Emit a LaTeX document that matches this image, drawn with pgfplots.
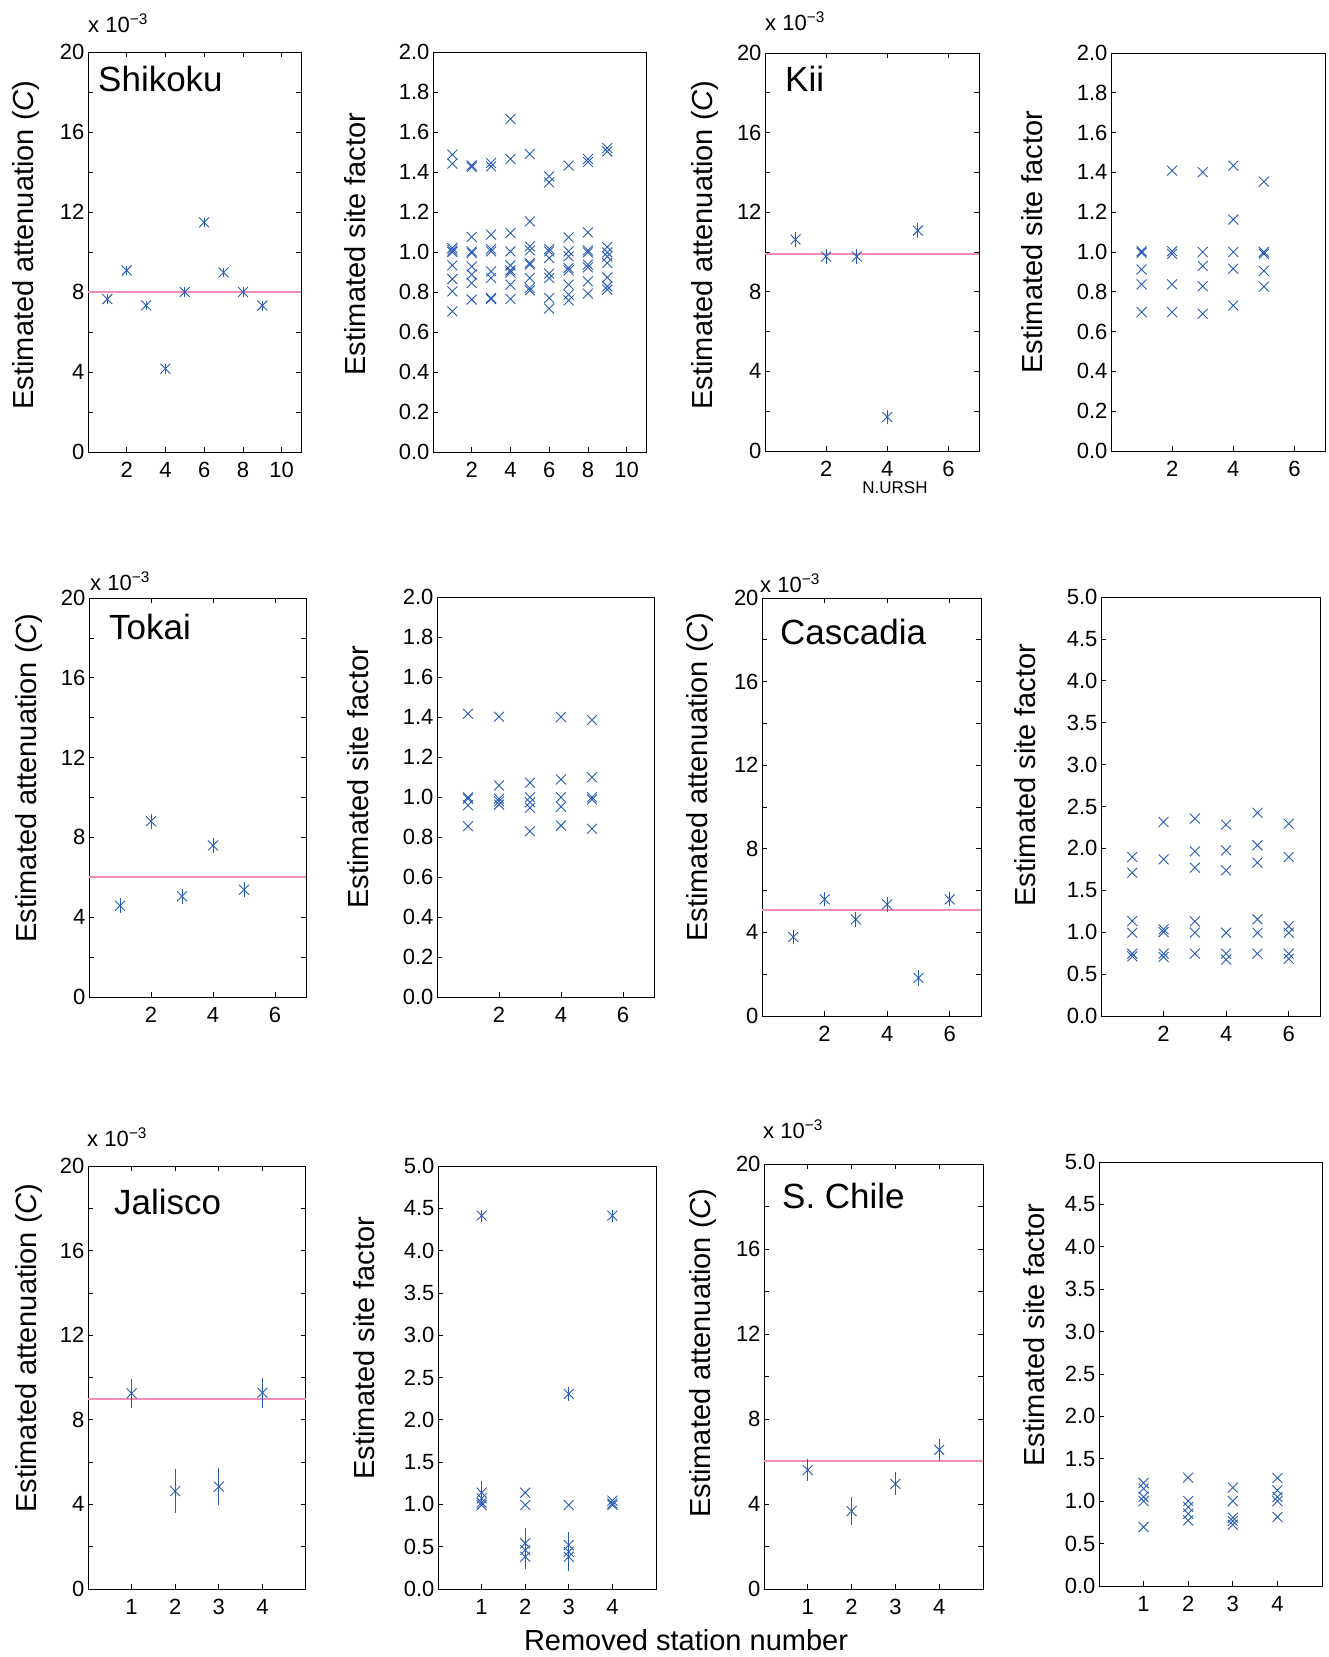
\documentclass[border=0pt]{standalone}
\usepackage{fontspec}
\setmainfont{Liberation Sans}
\usepackage{pgfplots}
\pgfplotsset{compat=1.18}
\definecolor{mk}{RGB}{40,92,180}
\definecolor{refc}{RGB}{240,140,185}
\newcommand\lab{\fontsize{29}{32}\selectfont}
\newcommand\ttl{\fontsize{35}{40}\selectfont}
\newcommand\sml{\fontsize{22}{24}\selectfont}

\pgfplotsset{
  panel/.style={scale only axis, anchor=south west,
    axis line style={line width=1pt}, tick align=inside,
    major tick length=5pt, minor tick length=5pt,
    every tick/.style={black, line width=0.8pt},
    tick label style={font=\sml},
    xticklabel style={yshift=-7pt},
    /pgf/number format/assume math mode=true},
  cpan/.style={panel, ymin=0, ymax=20, ytick={0,4,...,20},
    minor ytick={2,6,...,18}, tick pos=both},
  span/.style={panel, tick pos=left,
    yticklabel style={/pgf/number format/.cd, fixed, fixed zerofill, precision=1}},
  sf2/.style={span, ymin=0, ymax=2, ytick={0,0.2,0.4,0.6,0.8,1.0,1.2,1.4,1.6,1.8,2.0}},
  sf5/.style={span, ymin=0, ymax=5, ytick={0,0.5,1,1.5,2,2.5,3,3.5,4,4.5,5}},
  pts/.style={only marks, mark=x, mark size=7pt, color=mk, mark options={line width=0.9pt}},
  errpts/.style={pts, error bars/.cd, y dir=both, y explicit, error mark=-,
    error mark options={mk, mark size=2.5pt, line width=0.8pt},
    error bar style={mk, line width=0.8pt}},
  refline/.style={refc, line width=2pt, forget plot},
}

\begin{document}
\begin{tikzpicture}
\useasboundingbox (0pt,0pt) rectangle (1328pt,-1657pt);

% ---------- row 1 ----------
% Shikoku C
\begin{axis}[cpan, at={(88pt,-452pt)}, width=213pt, height=400pt,
  xmin=0, xmax=11, xtick={2,4,6,8,10}]
  \addplot[refline] coordinates {(0,8) (11,8)};
  \addplot[errpts] table[y error=e] {
    x y e
    1 7.65 0.12
    2 9.08 0.12
    3 7.33 0.12
    4 4.17 0.12
    5 8.00 0.12
    6 11.48 0.12
    7 8.98 0.12
    8 8.00 0.12
    9 7.32 0.12
  };
\end{axis}
% Shikoku site factor
\begin{axis}[sf2, at={(433pt,-452pt)}, width=213pt, height=400pt,
  xmin=0, xmax=11, xtick={2,4,6,8,10}]
  \addplot[pts] table {
    x y
    1 1.487
    1 1.442
    1 1.020
    1 1.008
    1 1.000
    1 0.933
    1 0.865
    1 0.803
    1 0.703
    2 1.433
    2 1.425
    2 1.075
    2 1.003
    2 0.995
    2 0.928
    2 0.887
    2 0.845
    2 0.762
    3 1.445
    3 1.428
    3 1.087
    3 1.015
    3 1.003
    3 0.903
    3 0.870
    3 0.770
    3 0.765
    4 1.665
    4 1.465
    4 1.095
    4 1.003
    4 0.933
    4 0.908
    4 0.898
    4 0.837
    4 0.765
    5 1.490
    5 1.153
    5 1.028
    5 1.008
    5 0.945
    5 0.937
    5 0.870
    5 0.820
    5 0.808
    6 1.378
    6 1.348
    6 1.015
    6 1.003
    6 0.970
    6 0.892
    6 0.870
    6 0.770
    6 0.717
    7 1.432
    7 1.073
    7 1.003
    7 0.978
    7 0.920
    7 0.908
    7 0.837
    7 0.787
    7 0.758
    8 1.465
    8 1.450
    8 1.098
    8 1.008
    8 0.998
    8 0.937
    8 0.923
    8 0.853
    8 0.792
    9 1.520
    9 1.503
    9 1.025
    9 0.998
    9 0.978
    9 0.945
    9 0.873
    9 0.828
    9 0.812
  };
\end{axis}
% Kii C
\begin{axis}[cpan, at={(765pt,-451pt)}, width=214pt, height=398pt,
  xmin=0, xmax=7, xtick={2,4,6}]
  \addplot[refline] coordinates {(0,9.9) (7,9.9)};
  \addplot[errpts] table[y error=e] {
    x y e
    1 10.63 0.24
    2 9.77 0.24
    3 9.77 0.24
    4 1.71 0.24
    5 11.08 0.24
  };
\end{axis}
% Kii site factor
\begin{axis}[sf2, at={(1111pt,-451pt)}, width=214pt, height=398pt,
  xmin=0, xmax=7, xtick={2,4,6}]
  \addplot[pts] table {
    x y
    1 1.004
    1 0.996
    1 0.912
    1 0.837
    1 0.698
    2 1.409
    2 1.004
    2 0.991
    2 0.837
    2 0.698
    3 1.401
    3 1.000
    3 0.930
    3 0.828
    3 0.690
    4 1.434
    4 1.163
    4 1.000
    4 0.916
    4 0.731
    5 1.354
    5 1.000
    5 0.991
    5 0.905
    5 0.826
  };
\end{axis}

% ---------- row 2 ----------
% Tokai C
\begin{axis}[cpan, at={(89pt,-997pt)}, width=217pt, height=399pt,
  xmin=0, xmax=7, xtick={2,4,6}]
  \addplot[refline] coordinates {(0,6.0) (7,6.0)};
  \addplot[errpts] table[y error=e] {
    x y e
    1 4.58 0.25
    2 8.81 0.25
    3 5.05 0.25
    4 7.60 0.25
    5 5.38 0.25
  };
\end{axis}
% Tokai site factor
\begin{axis}[sf2, at={(437pt,-997pt)}, width=217pt, height=400pt,
  xmin=0, xmax=7, xtick={2,4,6}]
  \addplot[pts] table {
    x y
    1 1.416
    1 0.999
    1 0.991
    1 0.959
    1 0.854
    2 1.401
    2 1.058
    2 0.991
    2 0.979
    2 0.962
    3 1.071
    3 0.999
    3 0.974
    3 0.946
    3 0.829
    4 1.400
    4 1.088
    4 0.999
    4 0.951
    4 0.857
    5 1.385
    5 1.099
    5 0.999
    5 0.988
    5 0.841
  };
\end{axis}
% Cascadia C
\begin{axis}[cpan, at={(762pt,-1016pt)}, width=219pt, height=418pt,
  xmin=0, xmax=7, xtick={2,4,6}]
  \addplot[refline] coordinates {(0,5.05) (7,5.05)};
  \addplot[errpts] table[y error=e] {
    x y e
    1 3.78 0.22
    2 5.58 0.22
    3 4.62 0.22
    4 5.34 0.22
    5 1.82 0.28
    6 5.58 0.22
  };
\end{axis}
% Cascadia site factor
\begin{axis}[sf5, at={(1101pt,-1016pt)}, width=219pt, height=419pt,
  xmin=0, xmax=7, xtick={2,4,6}]
  \addplot[pts] table {
    x y
    1 1.897
    1 1.710
    1 1.134
    1 0.994
    1 0.744
    1 0.712
    2 2.315
    2 1.870
    2 1.034
    2 1.002
    2 0.744
    2 0.704
    3 2.355
    3 1.965
    3 1.770
    3 1.130
    3 0.994
    3 0.744
    4 2.283
    4 1.977
    4 1.738
    4 0.994
    4 0.744
    4 0.672
    5 2.426
    5 2.037
    5 1.830
    5 1.154
    5 0.994
    5 0.744
    6 2.295
    6 1.897
    6 1.070
    6 0.994
    6 0.744
    6 0.684
  };
\end{axis}

% ---------- row 3 ----------
% Jalisco C
\begin{axis}[cpan, at={(88pt,-1589pt)}, width=218pt, height=423pt,
  xmin=0, xmax=5, xtick={1,2,3,4}]
  \addplot[refline] coordinates {(0,9.0) (5,9.0)};
  \addplot[errpts] table[y error=e] {
    x y e
    1 9.25 0.57
    2 4.63 0.92
    3 4.84 0.77
    4 9.28 0.58
  };
\end{axis}
% Jalisco site factor
\begin{axis}[sf5, at={(438pt,-1589pt)}, width=218pt, height=423pt,
  xmin=0, xmax=5, xtick={1,2,3,4}]
  \addplot[pts] table {
    x y
    1 1.072
    1 1.020
    1 0.993
    2 1.139
    2 0.993
    3 0.993
    4 1.044
    4 1.013
    4 0.993
  };
  \addplot[errpts] table[y error=e] {
    x y e
    1 4.413 0.04
    1 1.139 0.11
    2 0.540 0.15
    2 0.461 0.20
    2 0.382 0.12
    3 2.305 0.05
    3 0.520 0.13
    3 0.441 0.20
    3 0.382 0.14
    4 4.413 0.04
  };
\end{axis}
% S. Chile C
\begin{axis}[cpan, at={(764pt,-1589pt)}, width=219pt, height=425pt,
  xmin=0, xmax=5, xtick={1,2,3,4}]
  \addplot[refline] coordinates {(0,6.03) (5,6.03)};
  \addplot[errpts] table[y error=e] {
    x y e
    1 5.60 0.38
    2 3.67 0.53
    3 4.95 0.42
    4 6.55 0.41
  };
\end{axis}
% S. Chile site factor
\begin{axis}[sf5, at={(1099pt,-1586pt)}, width=223pt, height=424pt,
  xmin=0, xmax=5, xtick={1,2,3,4}]
  \addplot[pts] table {
    x y
    1 1.215
    1 1.148
    1 1.050
    1 1.002
    1 0.696
    2 1.278
    2 1.002
    2 0.932
    2 0.853
    2 0.774
    3 1.160
    3 1.002
    3 0.806
    3 0.767
    3 0.723
    4 1.274
    4 1.128
    4 1.050
    4 1.002
    4 0.814
  };
\end{axis}

% ---------- text ----------
\foreach \xx/\yy in {33/245, 712.7/245, 36/778, 707.7/777, 36.7/1348, 710/1353}
  \node[rotate=90, anchor=base, font=\lab, inner sep=0pt] at (\xx pt,-\yy pt)
    {Estimated attenuation (\textit{C})};
\foreach \xx/\yy in {365/244, 1042.7/242, 368.3/777, 1035.3/775, 374.3/1348, 1044.3/1335}
  \node[rotate=90, anchor=base, font=\lab, inner sep=0pt] at (\xx pt,-\yy pt)
    {Estimated site factor};
\foreach \xx/\yy in {88/32, 765/30, 90/590, 760/592, 87/1146, 763/1138}
  \node[anchor=base west, font=\sml, inner sep=0pt] at (\xx pt,-\yy pt)
    {x 10\textsuperscript{−3}};
\foreach \xx/\yy/\tt in {98/91/Shikoku, 785/91/Kii, 109/639/Tokai, 780/644/Cascadia, 114/1214/Jalisco, 782/1208/S. Chile}
  \node[anchor=base west, font=\ttl, inner sep=0pt] at (\xx pt,-\yy pt) {\tt};
\node[anchor=base, font=\fontsize{17}{19}\selectfont, inner sep=0pt] at (895pt,-493pt) {N.URSH};
\node[anchor=base, font=\lab, inner sep=0pt] at (686pt,-1650pt) {Removed station number};
\end{tikzpicture}
\end{document}
